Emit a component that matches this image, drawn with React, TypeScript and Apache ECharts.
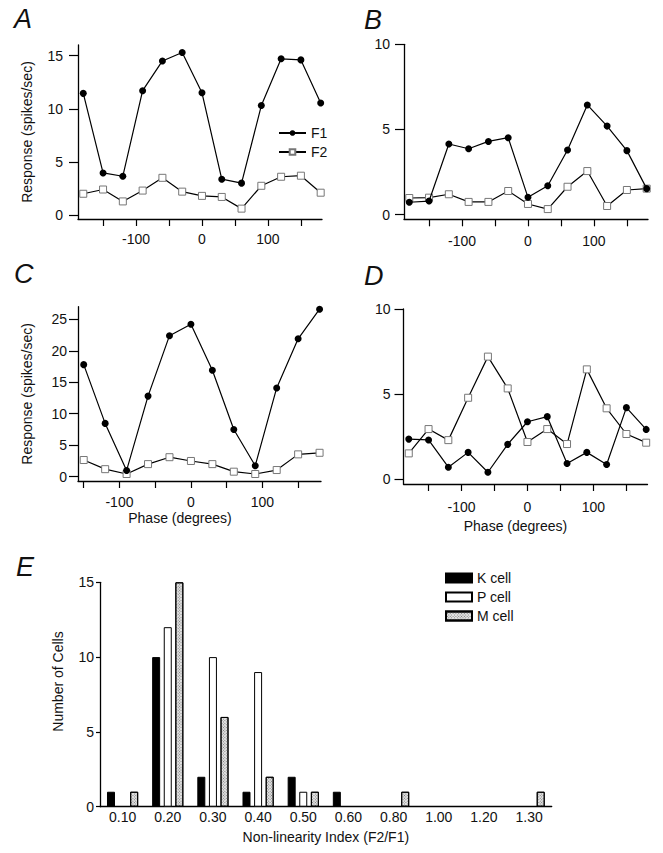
import React, { useEffect, useRef } from "react";
import * as echarts from "echarts";

const PHASE_ABD = [-180, -150, -120, -90, -60, -30, 0, 30, 60, 90, 120, 150, 180];
const PHASE_C = [-150, -120, -90, -60, -30, 0, 30, 60, 90, 120, 150, 180];

const A_F1 = [11.45, 3.96, 3.65, 11.7, 14.5, 15.3, 11.5, 3.37, 3.0, 10.3, 14.7, 14.6, 10.55];
const A_F2 = [2.0, 2.4, 1.28, 2.3, 3.5, 2.2, 1.8, 1.7, 0.6, 2.75, 3.6, 3.7, 2.1];
const B_F1 = [0.73, 0.8, 4.15, 3.87, 4.3, 4.52, 1.02, 1.7, 3.8, 6.44, 5.2, 3.76, 1.53];
const B_F2 = [0.98, 1.0, 1.2, 0.75, 0.75, 1.39, 0.63, 0.33, 1.64, 2.56, 0.51, 1.45, 1.53];
const C_F1 = [17.8, 8.47, 1.0, 12.8, 22.4, 24.2, 16.9, 7.5, 1.75, 14.1, 21.9, 26.6];
const C_F2 = [2.65, 1.2, 0.43, 2.0, 3.1, 2.5, 2.0, 0.8, 0.43, 1.06, 3.55, 3.8];
const D_F1 = [2.35, 2.3, 0.7, 1.57, 0.4, 2.04, 3.37, 3.67, 0.92, 1.57, 0.86, 4.2, 2.92];
const D_F2 = [1.51, 2.94, 2.29, 4.78, 7.2, 5.33, 2.18, 2.94, 2.06, 6.45, 4.16, 2.65, 2.14];

const PHASE_TICKS = [-150, -100, -50, 0, 50, 100, 150];
const PHASE_LABELS = [-100, 0, 100];
const Y_TICKS_15 = [0, 5, 10, 15];
const Y_TICKS_10 = [0, 5, 10];
const Y_TICKS_25 = [0, 5, 10, 15, 20, 25];

const NLI_CATEGORIES = ["0.10", "0.20", "0.30", "0.40", "0.50", "0.60", "0.80", "1.00", "1.20", "1.30"];
const K_CELL = [1, 10, 2, 1, 2, 1, 0, 0, 0, 0];
const P_CELL = [0, 12, 10, 9, 1, 0, 0, 0, 0, 0];
const M_CELL = [1, 15, 6, 2, 1, 0, 1, 0, 0, 1];

const FONT = '"Liberation Sans", Arial, Helvetica, sans-serif';
const INK = "#111";

function phaseAxis(gridIndex: number, min: number, max: number, labelMargin: number, name?: string, nameGap?: number, shift?: number) {
  return {
    type: "value",
    gridIndex,
    min,
    max,
    position: "bottom",
    name: name || "",
    nameLocation: "middle",
    nameGap: nameGap || 0,
    nameTextStyle: { fontFamily: FONT, fontSize: 14, color: INK, padding: [0, shift || 0, 0, 0] },
    axisLine: { show: true, onZero: false, lineStyle: { color: "#000", width: 1.3 } },
    axisTick: { show: true, length: 7, inside: false, customValues: PHASE_TICKS, lineStyle: { color: "#000", width: 1.2 } },
    axisLabel: { customValues: PHASE_LABELS, margin: labelMargin, fontFamily: FONT, fontSize: 14, color: INK },
    splitLine: { show: false },
  };
}

function respAxis(gridIndex: number, min: number, max: number, ticks: number[], labelMargin: number, name?: string) {
  return {
    type: "value",
    gridIndex,
    min,
    max,
    name: name || "",
    nameLocation: "middle",
    nameGap: 44,
    nameTextStyle: { fontFamily: FONT, fontSize: 14, color: INK },
    axisLine: { show: true, onZero: false, lineStyle: { color: "#000", width: 1.3 } },
    axisTick: { show: true, length: 9, customValues: ticks, lineStyle: { color: "#000", width: 1.2 } },
    axisLabel: { customValues: ticks, margin: labelMargin, fontFamily: FONT, fontSize: 14, color: INK },
    splitLine: { show: false },
  };
}

function lineSeries(name: string, xs: number[], ys: number[], idx: number, filled: boolean) {
  return {
    type: "line",
    name,
    xAxisIndex: idx,
    yAxisIndex: idx,
    data: xs.map((x, i) => [x, ys[i]]),
    symbol: filled ? "circle" : "rect",
    symbolSize: 7,
    showSymbol: true,
    lineStyle: { color: "#000", width: 1.2 },
    itemStyle: filled
      ? { color: "#000", borderColor: "#000", borderWidth: 0 }
      : { color: "#fff", borderColor: "#777", borderWidth: 1 },
    z: filled ? 4 : 3,
  };
}

function counts(values: number[]) {
  // empty bins draw no bar
  return values.map((v) => (v === 0 ? "-" : v));
}

function panelLetter(text: string, x: number, y: number) {
  return {
    type: "text",
    left: x,
    top: y,
    style: { text, font: `italic 27px ${FONT}`, fill: "#111" },
  };
}

export default function App() {
  const ref = useRef<HTMLDivElement>(null);

  useEffect(() => {
    if (!ref.current) return;
    const chart = echarts.init(ref.current, undefined, { renderer: "svg" });

    const option: any = {
      animation: false,
      backgroundColor: "#fff",
      textStyle: { fontFamily: FONT },
      graphic: [
        panelLetter("A", 14, 5),
        panelLetter("B", 364, 6),
        panelLetter("C", 14, 260),
        panelLetter("D", 364, 262),
        panelLetter("E", 16, 553),
      ],
      legend: [
        {
          data: ["F1", "F2"],
          orient: "vertical",
          left: 278,
          top: 126,
          itemWidth: 27,
          itemHeight: 7,
          itemGap: 5,
          padding: 0,
          selectedMode: false,
          textStyle: { fontFamily: FONT, fontSize: 14, color: INK },
        },
        {
          data: ["K cell", "P cell", "M cell"],
          orient: "vertical",
          left: 445,
          top: 571,
          icon: "rect",
          itemWidth: 26,
          itemHeight: 9,
          itemGap: 5,
          padding: 0,
          selectedMode: false,
          textStyle: { fontFamily: FONT, fontSize: 14, color: INK },
        },
      ],
      grid: [
        { left: 78, top: 45, width: 244, height: 174 },
        { left: 404, top: 44.3, width: 244, height: 175 },
        { left: 78, top: 306.7, width: 243, height: 174.3 },
        { left: 403.5, top: 309, width: 244, height: 175 },
        { left: 100, top: 582.3, width: 451.7, height: 224.4 },
      ],
      xAxis: [
        phaseAxis(0, -188, 182, 13),
        phaseAxis(1, -188, 182, 15),
        phaseAxis(2, -158, 182, 14, "Phase (degrees)", 30, 39),
        phaseAxis(3, -188, 182, 16, "Phase (degrees)", 35, 20),
        {
          type: "category",
          gridIndex: 4,
          data: NLI_CATEGORIES,
          boundaryGap: true,
          name: "Non-linearity Index (F2/F1)",
          nameLocation: "middle",
          nameGap: 23,
          nameTextStyle: { fontFamily: FONT, fontSize: 14, color: INK },
          axisLine: { show: true, lineStyle: { color: "#000", width: 1.3 } },
          axisTick: { show: false },
          axisLabel: { interval: 0, margin: 3, fontFamily: FONT, fontSize: 14, color: INK },
        },
      ],
      yAxis: [
        respAxis(0, -0.375, 16, Y_TICKS_15, 15, "Response (spikes/sec)"),
        respAxis(1, -0.27, 10, Y_TICKS_10, 14),
        respAxis(2, -0.68, 27, Y_TICKS_25, 11, "Response (spikes/sec)"),
        respAxis(3, -0.29, 10, Y_TICKS_10, 13),
        {
          type: "value",
          gridIndex: 4,
          min: 0,
          max: 15,
          interval: 5,
          name: "Number of Cells",
          nameLocation: "middle",
          nameGap: 35,
          nameTextStyle: { fontFamily: FONT, fontSize: 14, color: INK, padding: [0, 0, 0, 26] },
          axisLine: { show: true, lineStyle: { color: "#000", width: 1.3 } },
          axisTick: { show: true, length: 4, lineStyle: { color: "#000", width: 1.2 } },
          axisLabel: { margin: 6, fontFamily: FONT, fontSize: 14, color: INK },
          splitLine: { show: false },
        },
      ],
      series: [
        lineSeries("F2", PHASE_ABD, A_F2, 0, false),
        lineSeries("F1", PHASE_ABD, A_F1, 0, true),
        lineSeries("F2", PHASE_ABD, B_F2, 1, false),
        lineSeries("F1", PHASE_ABD, B_F1, 1, true),
        lineSeries("F2", PHASE_C, C_F2, 2, false),
        lineSeries("F1", PHASE_C, C_F1, 2, true),
        lineSeries("F2", PHASE_ABD, D_F2, 3, false),
        lineSeries("F1", PHASE_ABD, D_F1, 3, true),
        {
          type: "bar",
          name: "K cell",
          xAxisIndex: 4,
          yAxisIndex: 4,
          data: counts(K_CELL),
          barWidth: 8,
          barGap: "45%",
          itemStyle: { color: "#000", borderColor: "#000", borderWidth: 1 },
        },
        {
          type: "bar",
          name: "P cell",
          xAxisIndex: 4,
          yAxisIndex: 4,
          data: counts(P_CELL),
          barWidth: 8,
          barGap: "45%",
          itemStyle: { color: "#fff", borderColor: "#000", borderWidth: 1 },
        },
        {
          type: "bar",
          name: "M cell",
          xAxisIndex: 4,
          yAxisIndex: 4,
          data: counts(M_CELL),
          barWidth: 8,
          barGap: "45%",
          itemStyle: {
            color: "#e4e4e4",
            borderColor: "#000",
            borderWidth: 1,
            decal: {
              symbol: "rect",
              symbolSize: 1,
              dashArrayX: [1, 1],
              dashArrayY: [1, 1],
              rotation: Math.PI / 4,
              color: "rgba(0,0,0,0.45)",
            },
          },
        },
      ],
    };

    chart.setOption(option);
    return () => chart.dispose();
  }, []);

  return (
    <div
      ref={ref}
      style={{ position: "absolute", left: 0, top: 0, width: 663, height: 853, background: "#fff" }}
    />
  );
}
